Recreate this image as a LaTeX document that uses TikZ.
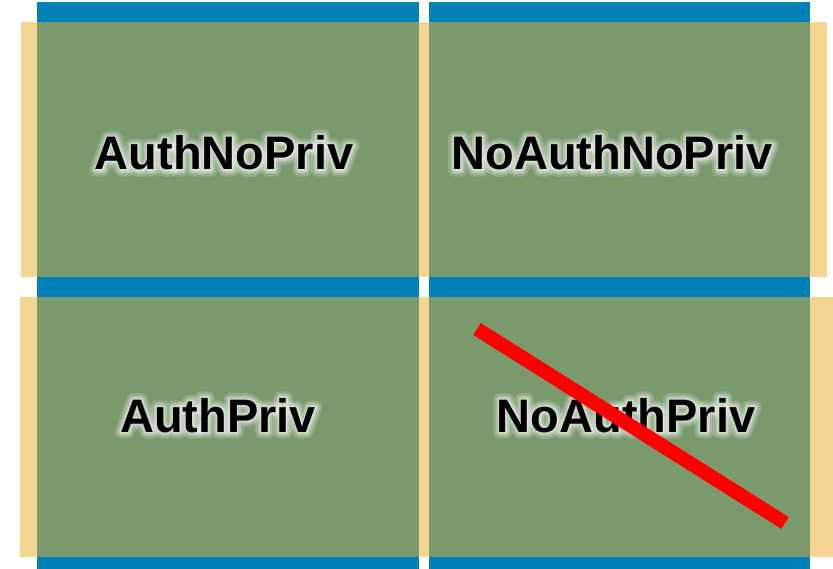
\documentclass[tikz,border=0pt]{standalone}
\usepackage{fontspec}
\setmainfont{Liberation Sans}
\usetikzlibrary{calc}
\definecolor{barblue}{RGB}{0,130,184}
\definecolor{bartan}{RGB}{244,214,146}
\definecolor{panelgreen}{RGB}{122,154,110}
\definecolor{crossred}{RGB}{255,0,0}
\tikzset{
  tanbar/.style={fill=bartan, draw=none},
  bluebar/.style={fill=barblue, draw=none},
  greenpanel/.style={fill=panelgreen, draw=none},
  labelfont/.style={font=\fontsize{47}{47}\selectfont\bfseries, inner sep=0pt, anchor=base},
  labeltext/.style={labelfont, text=black},
  halotext/.style={labelfont, text=white},
  strike/.style={draw=crossred, line width=14pt, line cap=butt}
}
% text drawn with a thick white outline (fill + stroke render mode)
\newcommand{\outlined}[2]{%
  \special{pdf:literal direct 2 Tr #1 w 1 j 1 1 1 RG}#2\special{pdf:literal direct 0 Tr 0.4 w}}
% label with a soft light halo behind it
\newcommand{\haloLabel}[3]{%
  \begin{scope}[opacity=0.18]
    \node[halotext] at (#1) {\outlined{13}{#3}};
  \end{scope}
  \begin{scope}[opacity=0.25]
    \node[halotext] at (#1) {\outlined{8}{#3}};
  \end{scope}
  \begin{scope}[opacity=0.35]
    \node[halotext] at (#1) {\outlined{4}{#3}};
  \end{scope}
  \node[labeltext] (#2) at (#1) {#3};
}
\begin{document}
\begin{tikzpicture}[x=1pt,y=-1pt]
\useasboundingbox (0,0) rectangle (833,569);
% top-left panel
\fill[tanbar] (21,22) rectangle (429,277);
\fill[bluebar] (37,2) rectangle (419,297);
\fill[greenpanel] (37,22) rectangle (419,277);
% top-right panel
\fill[tanbar] (419,22) rectangle (827,277);
\fill[bluebar] (429,2) rectangle (810,297);
\fill[greenpanel] (429,22) rectangle (810,277);
% bottom-left panel
\fill[tanbar] (20,297) rectangle (429,557);
\fill[bluebar] (37,277) rectangle (419,580);
\fill[greenpanel] (37,297) rectangle (419,557);
% bottom-right panel
\fill[tanbar] (419,297) rectangle (833,557);
\fill[bluebar] (429,277) rectangle (810,580);
\fill[greenpanel] (429,297) rectangle (810,557);
% labels
\coordinate (tlpos) at (224,170);
\coordinate (trpos) at (612,170);
\coordinate (blpos) at (218,432);
\coordinate (brpos) at (626,432);
\haloLabel{tlpos}{authnopriv}{AuthNoPriv}
\haloLabel{trpos}{noauthnopriv}{NoAuthNoPriv}
\haloLabel{blpos}{authpriv}{AuthPriv}
\haloLabel{brpos}{noauthpriv}{NoAuthPriv}
% strike-through of the unsupported level
\coordinate (strikeA) at (477,329);
\coordinate (strikeB) at (785,523);
\draw[strike] (strikeA) -- (strikeB);
\end{tikzpicture}
\end{document}
